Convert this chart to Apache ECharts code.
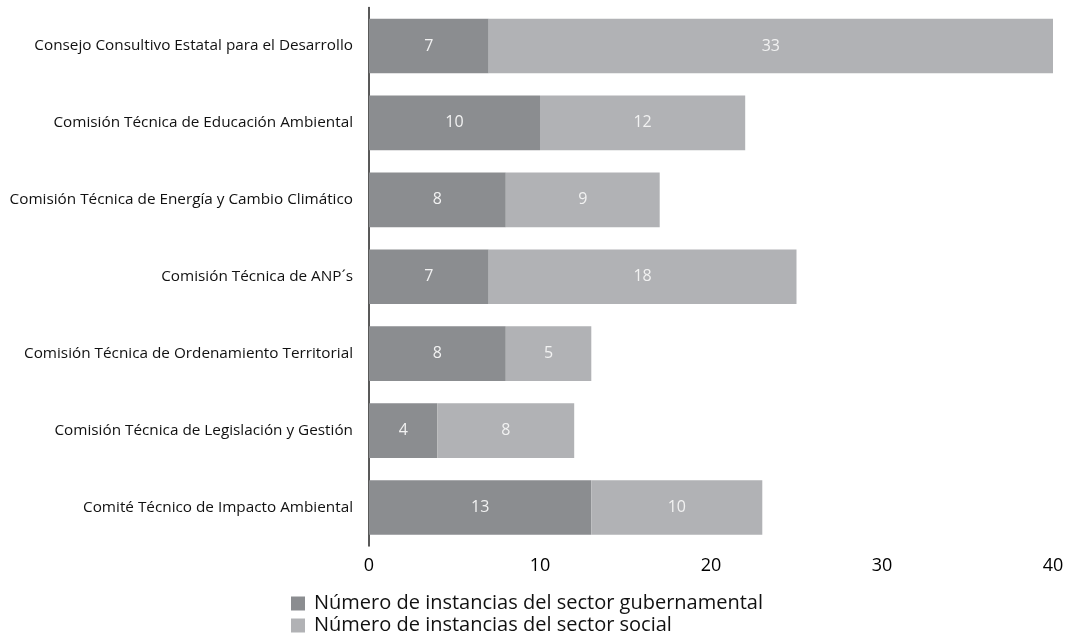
<!DOCTYPE html>
<html>
<head>
<meta charset="utf-8">
<script src="https://cdn.jsdelivr.net/npm/echarts@6/dist/echarts.min.js"></script>
<style>
  html, body { margin: 0; padding: 0; background: #fff; }
  #chart { width: 1069px; height: 637px; }
</style>
</head>
<body>
<div id="chart"></div>
<script>
// Commissions / councils, top to bottom
const categories = [
  'Consejo Consultivo Estatal para el Desarrollo',
  'Comisión Técnica de Educación Ambiental',
  'Comisión Técnica de Energía y Cambio Climático',
  'Comisión Técnica de ANP´s',
  'Comisión Técnica de Ordenamiento Territorial',
  'Comisión Técnica de Legislación y Gestión',
  'Comité Técnico de Impacto Ambiental'
];
const gubernamental = [7, 10, 8, 7, 8, 4, 13];
const social = [33, 12, 9, 18, 5, 8, 10];
const seriesNames = [
  'Número de instancias del sector gubernamental',
  'Número de instancias del sector social'
];
const xTicks = [0, 10, 20, 30, 40];

const chart = echarts.init(document.getElementById('chart'));
const font = '"Open Sans", "Noto Sans", sans-serif';
const valueLabel = {
  show: true,
  position: 'inside',
  color: '#f2f2f2',
  fontFamily: font,
  fontSize: 16
};

// one legend per series so the two entries stack tightly under each other
function legendRow(name, top) {
  return {
    orient: 'horizontal',
    left: 291,
    top: top,
    padding: 0,
    itemWidth: 14,
    itemHeight: 14,
    icon: 'rect',
    textStyle: { fontFamily: font, fontSize: 20, color: '#111', padding: [0, 0, 0, 4] },
    data: [name]
  };
}

chart.setOption({
  animation: false,
  textStyle: { fontFamily: font },
  grid: { left: 369, right: 16, top: 7.5, height: 538.5 },
  legend: [legendRow(seriesNames[0], 593.5), legendRow(seriesNames[1], 615.5)],
  xAxis: {
    type: 'value',
    min: xTicks[0],
    max: xTicks[xTicks.length - 1],
    interval: 10,
    axisLine: { show: false },
    axisTick: { show: false },
    splitLine: { show: false },
    axisLabel: { color: '#000', fontSize: 18, fontWeight: 500, fontFamily: font, margin: 11 }
  },
  yAxis: {
    type: 'category',
    data: categories,
    inverse: true,
    axisLine: { show: true, lineStyle: { color: '#222', width: 1.5 } },
    axisTick: { show: false },
    axisLabel: { color: '#111', fontSize: 15.3, fontFamily: font, margin: 16 }
  },
  series: [
    {
      name: seriesNames[0],
      type: 'bar',
      stack: 'total',
      data: gubernamental,
      barWidth: '71%',
      itemStyle: { color: '#8b8d90' },
      label: valueLabel
    },
    {
      name: seriesNames[1],
      type: 'bar',
      stack: 'total',
      data: social,
      barWidth: '71%',
      itemStyle: { color: '#b1b2b5' },
      label: valueLabel
    }
  ]
});
</script>
</body>
</html>
